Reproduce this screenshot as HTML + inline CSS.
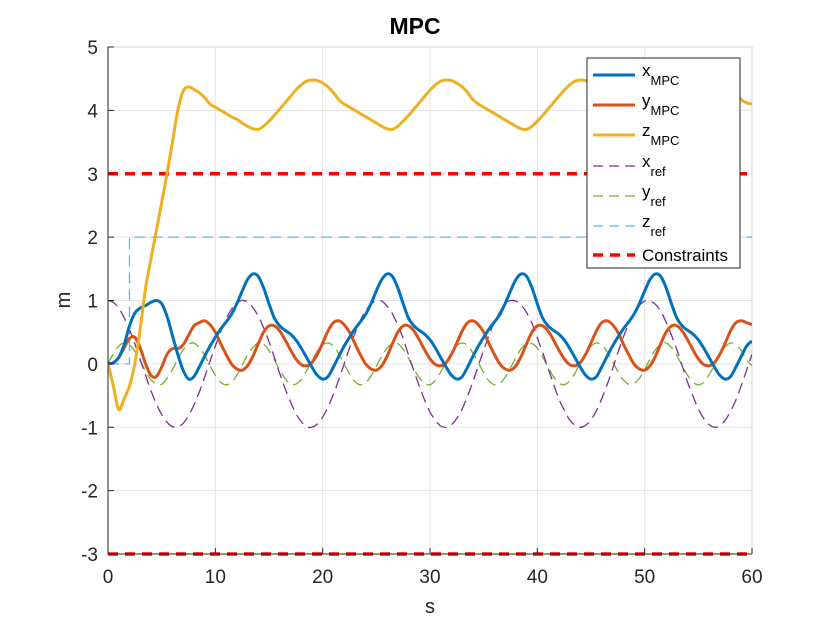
<!DOCTYPE html>
<html><head><meta charset="utf-8"><style>
body{margin:0;background:#fff;}
svg text{font-family:"Liberation Sans",sans-serif;fill:#262626;}
</style></head><body>
<svg id="chart" width="830" height="623" viewBox="0 0 830 623">
<rect width="830" height="623" fill="#fff"/>
<g id="grid"></g>
<g id="series"></g>
<g id="axes"></g>
<text x="415" y="34" font-size="23" font-weight="bold" text-anchor="middle" style="fill:#000">MPC</text>
<text x="430" y="613" font-size="20" text-anchor="middle">s</text>
<text x="70" y="300" font-size="20" text-anchor="middle" transform="rotate(-90 70 300)">m</text>
<g id="legend"></g>
</svg>
<script>
const xTicks=[0,10,20,30,40,50,60];
const yTicks=[-3,-2,-1,0,1,2,3,4,5];
const tStep=0.5;
const xMPC=[0,0.02,0.1,0.3,0.6,0.8,0.88,0.92,0.97,1.0,0.95,0.75,0.45,0.15,-0.1,
-0.24,-0.2,-0.05,0.12,0.28,0.42,0.55,0.66,0.78,0.95,1.15,1.33,1.42,1.38,1.2,0.95,0.72,0.6,0.53,0.47,0.38,0.25,0.1,-0.05,-0.18,
-0.24,-0.2,-0.05,0.12,0.28,0.42,0.55,0.66,0.78,0.95,1.15,1.33,1.42,1.38,1.2,0.95,0.72,0.6,0.53,0.47,0.38,0.25,0.1,-0.05,-0.18,
-0.24,-0.2,-0.05,0.12,0.28,0.42,0.55,0.66,0.78,0.95,1.15,1.33,1.42,1.38,1.2,0.95,0.72,0.6,0.53,0.47,0.38,0.25,0.1,-0.05,-0.18,
-0.24,-0.2,-0.05,0.12,0.28,0.42,0.55,0.66,0.78,0.95,1.15,1.33,1.42,1.38,1.2,0.95,0.72,0.6,0.53,0.47,0.38,0.25,0.1,-0.05,-0.18,
-0.24,-0.2,-0.05,0.12,0.28,0.36];
const yMPC=[0,0.02,0.1,0.25,0.4,0.42,0.25,0,-0.18,-0.2,-0.05,0.15,0.24,0.24,0.3,0.45,0.6,0.65,
0.68,0.62,0.5,0.32,0.15,0.0,-0.08,-0.1,-0.03,0.12,0.32,0.5,0.6,0.6,0.52,0.38,0.22,0.08,-0.01,-0.03,0.02,0.15,0.33,0.52,0.65,
0.68,0.62,0.5,0.32,0.15,0.0,-0.08,-0.1,-0.03,0.12,0.32,0.5,0.6,0.6,0.52,0.38,0.22,0.08,-0.01,-0.03,0.02,0.15,0.33,0.52,0.65,
0.68,0.62,0.5,0.32,0.15,0.0,-0.08,-0.1,-0.03,0.12,0.32,0.5,0.6,0.6,0.52,0.38,0.22,0.08,-0.01,-0.03,0.02,0.15,0.33,0.52,0.65,
0.68,0.62,0.5,0.32,0.15,0.0,-0.08,-0.1,-0.03,0.12,0.32,0.5,0.6,0.6,0.52,0.38,0.22,0.08,-0.01,-0.03,0.02,0.15,0.33,0.52,0.65,
0.68,0.65,0.62];
const zMPC=[0,-0.35,-0.72,-0.55,-0.35,0,0.55,1.2,1.65,2.1,2.55,3.0,3.5,4.0,4.3,4.37,4.33,4.28,4.2,4.1,4.05,4.0,3.95,3.9,3.86,3.8,3.75,3.71,
3.7,3.75,3.83,3.92,4.02,4.12,4.22,4.32,4.4,4.46,4.48,4.47,4.43,4.37,4.28,4.17,4.1,4.05,4.0,3.95,3.9,3.85,3.8,3.75,3.71,
3.7,3.75,3.83,3.92,4.02,4.12,4.22,4.32,4.4,4.46,4.48,4.47,4.43,4.37,4.28,4.17,4.1,4.05,4.0,3.95,3.9,3.85,3.8,3.75,3.71,
3.7,3.75,3.83,3.92,4.02,4.12,4.22,4.32,4.4,4.46,4.48,4.47,4.43,4.37,4.28,4.17,4.1,4.05,4.0,3.95,3.9,3.85,3.8,3.75,3.71,
3.7,3.75,3.83,3.92,4.02,4.12,4.22,4.32,4.4,4.46,4.48,4.47,4.43,4.37,4.28,4.17,4.12,4.1];
const xRef=[1,0.97,0.88,0.73,0.54,0.32,0.07,-0.18,-0.42,-0.63,-0.8,-0.92,-0.99,-0.99,-0.94,-0.82,-0.65,-0.45,-0.21,0.04,0.28,0.51,0.71,0.86,0.96,1.0,0.98,0.89,0.75,0.57,0.35,0.1,-0.15,-0.39,-0.6,-0.78,-0.91,-0.99,-1.0,-0.95,-0.84,-0.68,-0.48,-0.25,0.0,0.25,0.48,0.68,0.84,0.94,1.0,0.99,0.91,0.79,0.61,0.4,0.14,-0.11,-0.35,-0.57,-0.76,-0.89,-0.98,-1.0,-0.96,-0.86,-0.71,-0.51,-0.28,-0.03,0.22,0.45,0.66,0.82,0.94,1.0,0.99,0.93,0.81,0.64,0.41,0.18,-0.07,-0.31,-0.55,-0.73,-0.88,-0.97,-1.0,-0.97,-0.88,-0.74,-0.55,-0.33,-0.08,0.17,0.42,0.62,0.79,0.92,0.99,0.99,0.94,0.83,0.66,0.45,0.22,-0.03,-0.29,-0.51,-0.71,-0.86,-0.96,-1.0,-0.98,-0.89,-0.75,-0.57,-0.34,-0.1,0.15];
const yRef=[0,0.16,0.28,0.33,0.3,0.2,0.05,-0.12,-0.25,-0.32,-0.32,-0.23,-0.09,0.07,0.22,0.31,0.33,0.26,0.14,-0.03,-0.18,-0.29,-0.33,-0.29,-0.18,-0.02,0.14,0.26,0.33,0.31,0.21,0.07,-0.1,-0.23,-0.32,-0.32,-0.25,-0.11,0.05,0.2,0.3,0.33,0.28,0.16,0.0,-0.16,-0.28,-0.33,-0.3,-0.19,-0.04,0.12,0.25,0.32,0.32,0.23,0.09,-0.08,-0.22,-0.31,-0.33,-0.26,-0.13,0.03,0.18,0.29,0.33,0.29,0.17,0.02,-0.14,-0.27,-0.33,-0.31,-0.21,-0.06,0.1,0.24,0.32,0.32,0.25,0.11,-0.05,-0.2,-0.3,-0.33,-0.27,-0.15,0.01,0.17,0.28,0.33,0.3,0.19,0.04,-0.12,-0.25,-0.32,-0.31,-0.23,-0.09,0.08,0.22,0.31,0.33,0.26,0.13,-0.03,-0.18,-0.29,-0.33,-0.29,-0.17,-0.02,0.15,0.27,0.33,0.3,0.21,0.06,-0.03];
const zRefT=[0,2,2,60];
const zRefV=[0,0,2,2];
const constraintVals=[3,-3];

const X0=108,X1=752,Y0=554,Y1=47;
const sx=v=>X0+(v-0)/(60-0)*(X1-X0);
const sy=v=>Y0-(v-(-3))/(5-(-3))*(Y0-Y1);
const NS='http://www.w3.org/2000/svg';
function mk(tag,attrs,parent){const e=document.createElementNS(NS,tag);for(const k in attrs)e.setAttribute(k,attrs[k]);parent.appendChild(e);return e;}
const grid=document.getElementById('grid'),axes=document.getElementById('axes'),ser=document.getElementById('series'),leg=document.getElementById('legend');
xTicks.forEach(t=>{
  const l=mk('line',{x1:sx(t),x2:sx(t),y1:Y1,y2:Y0,stroke:'#e3e3e3','stroke-width':1},grid);
  
  
  const tk=mk('line',{x1:sx(t),x2:sx(t),y1:Y0,y2:Y0-6,stroke:'#262626','stroke-width':1},axes);
  
  
  const tx=mk('text',{x:sx(t),y:Y0+29,'font-size':19,'text-anchor':'middle'},axes);tx.textContent=t;
  
  
});
yTicks.forEach(t=>{
  const l=mk('line',{x1:X0,x2:X1,y1:sy(t),y2:sy(t),stroke:'#e3e3e3','stroke-width':1},grid);
  
  
  const tk=mk('line',{x1:X0,x2:X0+6,y1:sy(t),y2:sy(t),stroke:'#262626','stroke-width':1},axes);
  
  
  const tx=mk('text',{x:X0-10,y:sy(t)+7,'font-size':19,'text-anchor':'end'},axes);tx.textContent=t;
  
  
});
const ax1=mk('path',{d:`M${X0},${Y1}V${Y0}H${X1}`,stroke:'#262626',fill:'none','stroke-width':1},axes);


const ax2=mk('path',{d:`M${X0},${Y1}H${X1}V${Y0}`,stroke:'#d0d0d0',fill:'none','stroke-width':1},grid);



function smoothPath(vals){
  const p=vals.map((v,i)=>[sx(i*tStep),sy(v)]);
  let d=`M${p[0][0].toFixed(1)},${p[0][1].toFixed(1)}`;
  for(let i=0;i<p.length-1;i++){
    const a=p[Math.max(0,i-1)],b=p[i],c=p[i+1],e=p[Math.min(p.length-1,i+2)];
    const c1=[b[0]+(c[0]-a[0])/6,b[1]+(c[1]-a[1])/6],c2=[c[0]-(e[0]-b[0])/6,c[1]-(e[1]-b[1])/6];
    d+=`C${c1[0].toFixed(1)},${c1[1].toFixed(1)} ${c2[0].toFixed(1)},${c2[1].toFixed(1)} ${c[0].toFixed(1)},${c[1].toFixed(1)}`;
  }
  return d;
}
const clipD=mk('clipPath',{id:'plotclip'},document.getElementById('chart'));
mk('rect',{x:X0,y:Y1-3,width:X1-X0,height:Y0-Y1+6},clipD);
ser.setAttribute('clip-path','url(#plotclip)');

const zr=mk('path',{d:zRefT.map((t,i)=>(i?'L':'M')+sx(t)+','+sy(zRefV[i])).join(''),stroke:'#4DBEEE',fill:'none','stroke-width':1.3,'stroke-dasharray':'11,6'},ser);


const yr=mk('path',{d:smoothPath(yRef),stroke:'#77AC30',fill:'none','stroke-width':1.3,'stroke-dasharray':'11,6'},ser);


const xr=mk('path',{d:smoothPath(xRef),stroke:'#7E2F8E',fill:'none','stroke-width':1.3,'stroke-dasharray':'11,6'},ser);


constraintVals.forEach(c=>{
  const l=mk('line',{x1:X0,x2:X1,y1:sy(c),y2:sy(c),stroke:'#FF0000','stroke-width':3.5,'stroke-dasharray':'10,7'},ser);
  
  
});
const ym=mk('path',{d:smoothPath(yMPC),stroke:'#D95319',fill:'none','stroke-width':3},ser);


const xm=mk('path',{d:smoothPath(xMPC),stroke:'#0072BD',fill:'none','stroke-width':3},ser);


const zm=mk('path',{d:smoothPath(zMPC),stroke:'#EDB120',fill:'none','stroke-width':3},ser);



// legend
const lb=mk('rect',{x:587,y:58,width:153,height:210,fill:'#fff',stroke:'#262626','stroke-width':1},leg);


const entries=[['x','MPC','#0072BD',3,'',75],['y','MPC','#D95319',3,'',105],['z','MPC','#EDB120',3,'',135],['x','ref','#7E2F8E',1.3,'10,6',166],['y','ref','#77AC30',1.3,'10,6',196],['z','ref','#4DBEEE',1.3,'10,6',226],['Constraints','','#FF0000',3.5,'10,7',255]];
entries.forEach(en=>{
  const g=mk('g',{},leg);
  
  
  const l=mk('line',{x1:593,x2:635,y1:en[5],y2:en[5],stroke:en[2],'stroke-width':en[3]},g);
  if(en[4])l.setAttribute('stroke-dasharray',en[4]);
  const t=mk('text',{x:642,y:en[5]+(en[1]?1:6),'font-size':17},g);
  t.style.fill='#000';
  t.textContent=en[0];
  if(en[1]){const s=mk('tspan',{dy:9,'font-size':13},t);s.textContent=en[1];}
});
</script>
</body></html>
